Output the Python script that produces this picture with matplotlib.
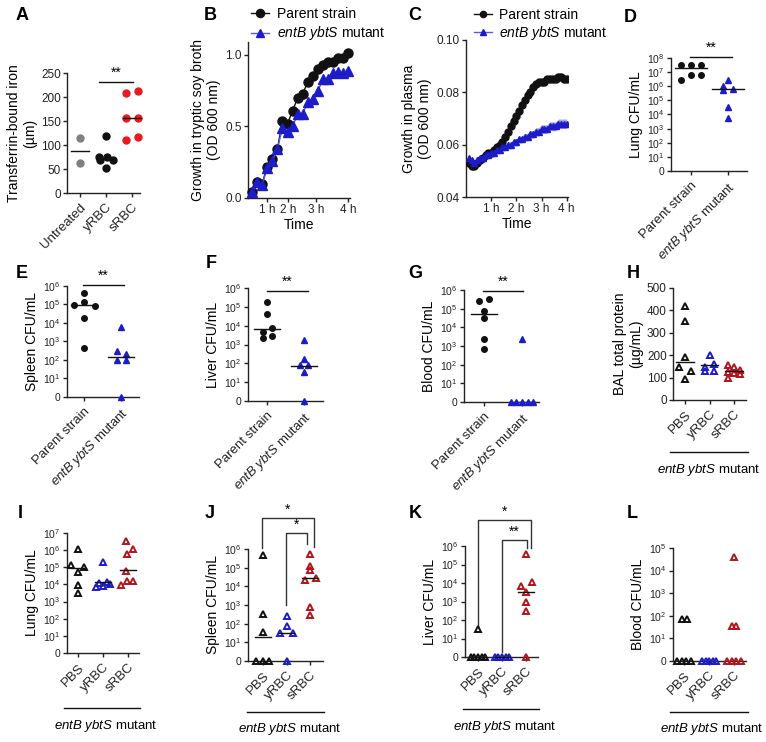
import numpy as np
import matplotlib
matplotlib.use("Agg")
import matplotlib.pyplot as plt
from matplotlib.lines import Line2D

plt.rcParams['font.family'] = ['Liberation Sans', 'DejaVu Sans']
plt.rcParams['mathtext.fontset'] = 'custom'
plt.rcParams['mathtext.rm'] = 'Liberation Sans'
plt.rcParams['mathtext.it'] = 'Liberation Sans:italic'
plt.rcParams['mathtext.bf'] = 'Liberation Sans:bold'

# ---------------- data ----------------
# A: transferrin-bound iron
a_groups = ['Untreated', 'yRBC', 'sRBC']
a_untreated = [115, 62]
a_yrbc = [118, 76, 75, 68, 68, 52]
a_srbc = [208, 212, 157, 157, 111, 116]
a_lines = [88, 70, 157]

# B: growth in tryptic soy broth (20 reads)
b_parent = [0.04, 0.11, 0.10, 0.22, 0.27, 0.34, 0.54, 0.52, 0.61, 0.70,
            0.73, 0.81, 0.85, 0.90, 0.93, 0.95, 0.95, 0.98, 0.98, 1.01]
b_mutant = [0.04, 0.11, 0.09, 0.21, 0.26, 0.34, 0.49, 0.46, 0.50, 0.59,
            0.59, 0.67, 0.69, 0.75, 0.83, 0.83, 0.87, 0.88, 0.87, 0.89]
b_ticklabels = ['1 h', '2 h', '3 h', '4 h']

# C: growth in plasma (36 reads)
c_parent = [0.053, 0.052, 0.052, 0.053, 0.054, 0.055, 0.056, 0.057, 0.057, 0.058,
            0.059, 0.060, 0.061, 0.063, 0.065, 0.067, 0.069, 0.071, 0.073, 0.075,
            0.077, 0.079, 0.080, 0.082, 0.083, 0.084, 0.084, 0.084, 0.085, 0.085,
            0.085, 0.085, 0.086, 0.086, 0.085, 0.085]
c_mutant = [0.055, 0.054, 0.053, 0.054, 0.055, 0.055, 0.056, 0.056, 0.057, 0.057,
            0.058, 0.058, 0.059, 0.059, 0.060, 0.060, 0.061, 0.061, 0.062, 0.062,
            0.063, 0.063, 0.064, 0.064, 0.065, 0.065, 0.066, 0.066, 0.066, 0.067,
            0.067, 0.067, 0.068, 0.068, 0.068, 0.068]
c_parent_sem = [0.0004, 0.0004, 0.0004, 0.0004, 0.0004, 0.0005, 0.0005, 0.0005, 0.0005, 0.0005,
                0.0006, 0.0006, 0.0006, 0.0007, 0.0007, 0.0008, 0.0008, 0.0009, 0.0009, 0.0010,
                0.0010, 0.0011, 0.0011, 0.0012, 0.0012, 0.0013, 0.0013, 0.0013, 0.0014, 0.0014,
                0.0014, 0.0015, 0.0015, 0.0015, 0.0015, 0.0015]
c_mutant_sem = [0.0005, 0.0005, 0.0005, 0.0005, 0.0005, 0.0006, 0.0006, 0.0006, 0.0007, 0.0007,
                0.0008, 0.0008, 0.0009, 0.0009, 0.0010, 0.0010, 0.0011, 0.0011, 0.0012, 0.0012,
                0.0013, 0.0013, 0.0014, 0.0014, 0.0015, 0.0015, 0.0016, 0.0016, 0.0016, 0.0017,
                0.0017, 0.0017, 0.0018, 0.0018, 0.0018, 0.0018]

strain_labels = ['Parent strain', r'$\it{entB\ ybtS}$ mutant']
treat_labels = ['PBS', 'yRBC', 'sRBC']

# D-G: CFU/mL, parent vs mutant (0 = below detection)
d_parent = [3.4e7, 3.4e7, 3.4e7, 2.9e6, 5.9e6, 5.9e6]
d_mutant = [2.9e6, 1.1e6, 6.3e5, 5.6e5, 3.2e4, 5.4e3]
d_lines = [1.9e7, 6.3e5]

e_parent = [4.0e5, 1.3e5, 9.1e4, 8.3e4, 1.8e4, 4.4e2]
e_mutant = [5.9e3, 3.2e2, 2.0e2, 1.0e2, 1.0e2, 0]
e_lines = [9.1e4, 1.5e2]

f_parent = [1.7e5, 4.1e4, 7.2e3, 4.8e3, 2.1e3, 2.8e3]
f_mutant = [1.7e3, 1.7e2, 80, 80, 35, 0]
f_lines = [6.4e3, 70]

g_parent = [2.6e5, 3.2e5, 7.6e4, 3.0e4, 2.4e3, 6.8e2]
g_mutant = [2.3e3, 0, 0, 0, 0, 0]
g_lines = [5.2e4, 0]

# H: BAL total protein (ug/mL)
h_pbs = [421, 354, 190, 149, 131, 93]
h_yrbc = [201, 161, 149, 131, 131]
h_srbc = [157, 149, 134, 127, 122, 116, 100]
h_lines = [169, 157, 131]

# I-L: CFU/mL by treatment, mutant strain
i_pbs = [1.2e6, 1.3e5, 9.8e4, 5.0e4, 9.3e3, 3.0e3]
i_yrbc = [2.0e5, 1.2e4, 1.3e4, 7.4e3, 8.1e3, 1.1e4]
i_srbc = [3.2e6, 1.1e6, 6.2e5, 6.2e4, 9.3e3, 1.6e4, 1.6e4]
i_lines = [8.9e4, 1.3e4, 7.1e4]

j_pbs = [4.6e5, 3.5e2, 36, 0, 0, 0]
j_yrbc = [2.6e2, 76, 33, 33, 0]
j_srbc = [5.4e5, 1.2e5, 7.4e4, 2.3e4, 2.7e4, 7.9e2, 2.9e2]
j_lines = [19, 33, 2.7e4]

k_pbs = [33, 0, 0, 0, 0, 0]
k_yrbc = [0, 0, 0, 0, 0]
k_srbc = [3.5e5, 7.1e3, 1.2e4, 3.4e3, 9.8e2, 3.2e2, 0]
k_lines = [0, 0, 3.4e3]

l_pbs = [70, 70, 0, 0, 0, 0]
l_yrbc = [0, 0, 0, 0, 0]
l_srbc = [4.0e4, 36, 36, 0, 0, 0, 0]

# ---------------- layout ----------------
W, H = 766, 742
fig = plt.figure(figsize=(W / 100, H / 100), dpi=100)

BLACK = '#111111'
GREY = '#808080'
RED = '#e8191f'
DRED = '#b3141c'
BLUE = '#1c1cc8'
TICK_FS = 8.5
LOG_FS = 7.5
LAB_FS = 10
CAT_FS = 9.5


def px_axes(l, t, r, b):
    ax = fig.add_axes([l / W, 1 - b / H, (r - l) / W, (b - t) / H])
    for s in ['top', 'right']:
        ax.spines[s].set_visible(False)
    for s in ['left', 'bottom']:
        ax.spines[s].set_linewidth(1.0)
        ax.spines[s].set_color('#222222')
    ax.tick_params(direction='out', length=3, width=1, labelsize=TICK_FS,
                   colors='#222222', pad=1.5)
    return ax


def cat_axes(l, t, r, b, c0, step, labels):
    ax = px_axes(l, t, r, b)
    ax.set_xlim((l - c0) / step, (r - c0) / step)
    ax.set_xticks(range(len(labels)))
    ax.set_xticklabels(labels, rotation=45, ha='right', rotation_mode='anchor',
                       fontsize=CAT_FS, color='#222222')
    ax.tick_params(axis='x', pad=3)
    return ax


def log_ticks(ax, top):
    ax.set_ylim(0, top)
    ax.set_yticks(range(top + 1))
    ax.set_yticklabels(['0'] + [f'$10^{{{k}}}$' for k in range(1, top + 1)])
    ax.tick_params(axis='y', labelsize=LOG_FS)


def lg(vals):
    return np.array([np.log10(v) if v > 0 else 0.0 for v in vals])


def dots(ax, i, vals, offs, color, marker='o', ms=4, filled=True):
    ax.plot(i + np.array(offs), vals, ls='none', marker=marker, ms=ms,
            mfc=color if filled else 'none', mec=color,
            mew=1.0 if filled else 1.4, clip_on=False, zorder=3)


def hline(ax, i, y, hw=0.33, color=BLACK):
    ax.plot([i - hw, i + hw], [y, y], color=color, lw=1.0, clip_on=False, zorder=4)


def sig(ax, x0, x1, y, txt, dy):
    ax.plot([x0, x1], [y, y], color=BLACK, lw=1.0, clip_on=False)
    ax.text((x0 + x1) / 2, y + dy, txt, ha='center', va='bottom', fontsize=10)


def bracket(ax, x0, x1, y, y0, y1, txt, dy):
    ax.plot([x0, x0, x1, x1], [y0, y, y, y1], color='#333333', lw=1.0, clip_on=False)
    ax.text((x0 + x1) / 2, y + dy, txt, ha='center', va='bottom', fontsize=10)


def letter(x, y, s):
    fig.text(x / W, 1 - y / H, s, fontsize=13, fontweight='bold', ha='center', va='center')


def group_note(l, r, yline, ytext, xc):
    fig.add_artist(Line2D([l / W, r / W], [1 - yline / H, 1 - yline / H],
                          color=BLACK, lw=1.0))
    fig.text(xc / W, 1 - ytext / H, r'$\it{entB\ ybtS}$ mutant', fontsize=9.5,
             ha='center', va='center')


# ---- A ----
ax = cat_axes(67, 73, 140, 193, 80, 26, a_groups)
ax.set_ylim(0, 250)
ax.set_yticks([0, 50, 100, 150, 200, 250])
dots(ax, 0, a_untreated, [0, 0], GREY, ms=5)
dots(ax, 1, a_yrbc, [0, -0.28, 0.02, -0.22, 0.25, 0], BLACK, ms=5)
dots(ax, 2, a_srbc, [-0.24, 0.22, -0.24, 0.22, -0.24, 0.22], RED, ms=5)
for i, v in enumerate(a_lines):
    hline(ax, i, v, 0.35)
sig(ax, 0.73, 2.04, 232, '**', 4)
ax.set_ylabel('Transferrin-bound iron\n(µm)', fontsize=LAB_FS, labelpad=3)
letter(22, 16, 'A')

# ---- B ----
ax = px_axes(248, 42, 350, 198)
bx = np.arange(1, len(b_parent) + 1)
lp, = ax.plot(bx, b_parent, color=BLACK, lw=1, marker='o', ms=6.5, zorder=3, clip_on=False)
lm, = ax.plot(bx, b_mutant, color='#5a5ae0', lw=1, marker='^', ms=6.5,
              mfc=BLUE, mec=BLUE, zorder=4, clip_on=False)
ax.set_xlim(0.22, 20.3)
ax.set_ylim(0, 1.09)
ax.set_yticks([0, 0.5, 1.0])
ax.set_yticklabels(['0.0', '0.5', '1.0'])
ax.set_xticks([3.94, 8.06, 13.55, 20.0])
ax.set_xticklabels(b_ticklabels)
ax.set_xlabel('Time', fontsize=LAB_FS, labelpad=1)
ax.set_ylabel('Growth in tryptic soy broth\n(OD 600 nm)', fontsize=LAB_FS, labelpad=3)
ax.legend([lp, lm], strain_labels, loc='upper left', bbox_to_anchor=(251 / W, 1 - 7 / H),
          bbox_transform=fig.transFigure, frameon=False, fontsize=10,
          handlelength=1.3, handletextpad=0.6, borderpad=0, borderaxespad=0,
          labelspacing=0.25, markerscale=0.9)
letter(210, 16, 'B')

# ---- C ----
ax = px_axes(466, 40, 568, 197)
ct = np.linspace(0.11, 4.0, len(c_parent))
cp = np.array(c_parent)
cm = np.array(c_mutant)
ax.fill_between(ct, cp - np.array(c_parent_sem), cp + np.array(c_parent_sem),
                color='#b0b0b0', lw=0, zorder=1)
ax.fill_between(ct, cm - np.array(c_mutant_sem), cm + np.array(c_mutant_sem),
                color='#a8a8f0', lw=0, zorder=1)
lp, = ax.plot(ct, cp, color=BLACK, lw=1, marker='o', ms=5, zorder=3)
lm, = ax.plot(ct, cm, color='#5a5ae0', lw=1, marker='^', ms=5, mfc=BLUE, mec=BLUE, zorder=4)
ax.set_xlim(0, 4.05)
ax.set_ylim(0.04, 0.10)
ax.set_yticks([0.04, 0.06, 0.08, 0.10])
ax.set_yticklabels(['0.04', '0.06', '0.08', '0.10'])
ax.set_xticks([1, 2, 3, 4])
ax.set_xticklabels(b_ticklabels)
ax.set_xlabel('Time', fontsize=LAB_FS, labelpad=1)
ax.set_ylabel('Growth in plasma\n(OD 600 nm)', fontsize=LAB_FS, labelpad=3)
ax.legend([lp, lm], strain_labels, loc='upper left', bbox_to_anchor=(474 / W, 1 - 8 / H),
          bbox_transform=fig.transFigure, frameon=False, fontsize=10,
          handlelength=1.3, handletextpad=0.5, borderpad=0, borderaxespad=0,
          labelspacing=0.15, markerscale=0.9)
letter(415, 16, 'C')

# ---- D ----
ax = cat_axes(671, 58, 747, 171, 691, 37, strain_labels)
log_ticks(ax, 8)
dots(ax, 0, lg(d_parent), [-0.27, 0, 0.28, -0.27, 0, 0.28], BLACK, ms=4)
dots(ax, 1, lg(d_mutant), [0, -0.14, 0.14, -0.14, 0, 0], BLUE, marker='^', ms=4)
for i, v in enumerate(lg(d_lines)):
    hline(ax, i, v, 0.42)
sig(ax, -0.03, 1.11, 8.08, '**', 0.15)
ax.set_ylabel('Lung CFU/mL', fontsize=LAB_FS, labelpad=3)
letter(630, 17, 'D')

# ---- E ----
ax = cat_axes(67, 286, 139, 397, 84, 37, strain_labels)
log_ticks(ax, 6)
dots(ax, 0, lg(e_parent), [0, 0, -0.28, 0.29, 0, 0], BLACK, ms=4)
dots(ax, 1, lg(e_mutant), [0, -0.12, 0.13, -0.12, 0.13, 0], BLUE, marker='^', ms=4)
for i, v in enumerate(lg(e_lines)):
    hline(ax, i, v, 0.35)
sig(ax, -0.03, 1.08, 6.05, '**', 0.12)
ax.set_ylabel('Spleen CFU/mL', fontsize=LAB_FS, labelpad=3)
letter(22, 273, 'E')

# ---- F ----
ax = cat_axes(248, 288, 323, 401, 267, 37, strain_labels)
log_ticks(ax, 6)
dots(ax, 0, lg(f_parent), [0, 0, 0.14, -0.11, -0.11, 0.14], BLACK, ms=4)
dots(ax, 1, lg(f_mutant), [0, 0, -0.12, 0.12, 0, 0], BLUE, marker='^', ms=4)
for i, v in enumerate(lg(f_lines)):
    hline(ax, i, v, 0.35)
sig(ax, 0.0, 1.1, 5.82, '**', 0.12)
ax.set_ylabel('Liver CFU/mL', fontsize=LAB_FS, labelpad=3)
letter(211, 263, 'F')

# ---- G ----
ax = cat_axes(464, 290, 539, 402, 484, 38, strain_labels)
log_ticks(ax, 6)
dots(ax, 0, lg(g_parent), [-0.13, 0.12, 0, 0, 0, 0], BLACK, ms=4)
dots(ax, 1, lg(g_mutant), [0, -0.3, -0.15, 0, 0.15, 0.3], BLUE, marker='^', ms=4)
hline(ax, 0, lg(g_lines)[0], 0.35)
hline(ax, 1, lg(g_lines)[1], 0.35, color=BLUE)
sig(ax, -0.03, 1.03, 5.94, '**', 0.12)
ax.set_ylabel('Blood CFU/mL', fontsize=LAB_FS, labelpad=3)
letter(415, 273, 'G')

# ---- H ----
ax = cat_axes(673, 288, 746, 400, 685, 24.5, treat_labels)
ax.set_ylim(0, 500)
ax.set_yticks(range(0, 501, 100))
dots(ax, 0, h_pbs, [0, 0, 0, -0.23, 0.23, 0], BLACK, marker='^', ms=4.5, filled=False)
dots(ax, 1, h_yrbc, [0, 0.2, -0.2, -0.2, 0.2], BLUE, marker='^', ms=4.5, filled=False)
dots(ax, 2, h_srbc, [-0.23, 0, 0.24, -0.23, 0, 0.24, -0.23], DRED, marker='^', ms=4.5, filled=False)
for i, v in enumerate(h_lines):
    hline(ax, i, v, 0.35)
ax.set_ylabel('BAL total protein\n(µg/mL)', fontsize=LAB_FS, labelpad=3)
letter(633, 273, 'H')
group_note(670, 748, 452, 470, 709)

# ---- I ----
ax = cat_axes(67, 533, 139, 653, 78, 25, treat_labels)
log_ticks(ax, 7)
dots(ax, 0, lg(i_pbs), [0, -0.27, 0.23, 0, 0, 0], BLACK, marker='^', ms=4.5, filled=False)
dots(ax, 1, lg(i_yrbc), [0, -0.16, 0.16, -0.27, 0, 0.27], BLUE, marker='^', ms=4.5, filled=False)
dots(ax, 2, lg(i_srbc), [-0.07, 0.2, -0.03, -0.07, -0.29, -0.03, 0.2], DRED, marker='^', ms=4.5, filled=False)
for i, v in enumerate(lg(i_lines)):
    hline(ax, i, v, 0.33)
ax.set_ylabel('Lung CFU/mL', fontsize=LAB_FS, labelpad=3)
letter(20, 513, 'I')
group_note(64, 140, 708, 726, 106)

# ---- J ----
ax = cat_axes(248, 549, 323, 661, 263, 23.5, treat_labels)
log_ticks(ax, 6)
dots(ax, 0, lg(j_pbs), [0, 0, 0, -0.28, 0, 0.25], BLACK, marker='^', ms=4.5, filled=False)
dots(ax, 1, lg(j_yrbc), [0, 0, -0.27, 0.26, 0], BLUE, marker='^', ms=4.5, filled=False)
dots(ax, 2, lg(j_srbc), [0, 0, 0, -0.21, 0.24, 0, 0], DRED, marker='^', ms=4.5, filled=False)
for i, v in enumerate(lg(j_lines)):
    hline(ax, i, v, 0.33)
bracket(ax, -0.05, 2.17, 7.65, 6.04, 6.13, '*', 0.05)
bracket(ax, 0.96, 1.87, 6.88, 2.99, 6.27, '*', 0.05)
ax.set_ylabel('Spleen CFU/mL', fontsize=LAB_FS, labelpad=3)
letter(210, 513, 'J')
group_note(247, 324, 712, 729, 290)

# ---- K ----
ax = cat_axes(465, 546, 538, 657, 478, 24, treat_labels)
log_ticks(ax, 6)
dots(ax, 0, lg(k_pbs), [0, -0.3, -0.15, 0, 0.15, 0.3], BLACK, marker='^', ms=4.5, filled=False)
dots(ax, 1, lg(k_yrbc), [-0.3, -0.15, 0, 0.15, 0.3], BLUE, marker='^', ms=4.5, filled=False)
dots(ax, 2, lg(k_srbc), [0, -0.22, 0.26, 0, 0, 0, 0], DRED, marker='^', ms=4.5, filled=False)
for i, v in enumerate(lg(k_lines)):
    hline(ax, i, v, 0.33)
bracket(ax, 0.0, 2.2, 7.42, 1.68, 5.91, '*', 0.05)
bracket(ax, 1.0, 2.03, 6.34, 0.25, 5.91, '**', 0.05)
ax.set_ylabel('Liver CFU/mL', fontsize=LAB_FS, labelpad=3)
letter(415, 514, 'K')
group_note(463, 539, 709, 727, 505)

# ---- L ----
ax = cat_axes(673, 548, 746, 661, 684, 25, treat_labels)
log_ticks(ax, 5)
dots(ax, 0, lg(l_pbs), [-0.08, 0.12, -0.27, -0.09, 0.09, 0.27], BLACK, marker='^', ms=4.5, filled=False)
dots(ax, 1, lg(l_yrbc), [-0.28, -0.14, 0, 0.14, 0.28], BLUE, marker='^', ms=4.5, filled=False)
dots(ax, 2, lg(l_srbc), [0, -0.1, 0.08, -0.27, -0.09, 0.09, 0.27], DRED, marker='^', ms=4.5, filled=False)
ax.set_ylabel('Blood CFU/mL', fontsize=LAB_FS, labelpad=3)
letter(632, 513, 'L')
group_note(670, 748, 712, 729, 712)

fig.savefig('out.png', dpi=100)
